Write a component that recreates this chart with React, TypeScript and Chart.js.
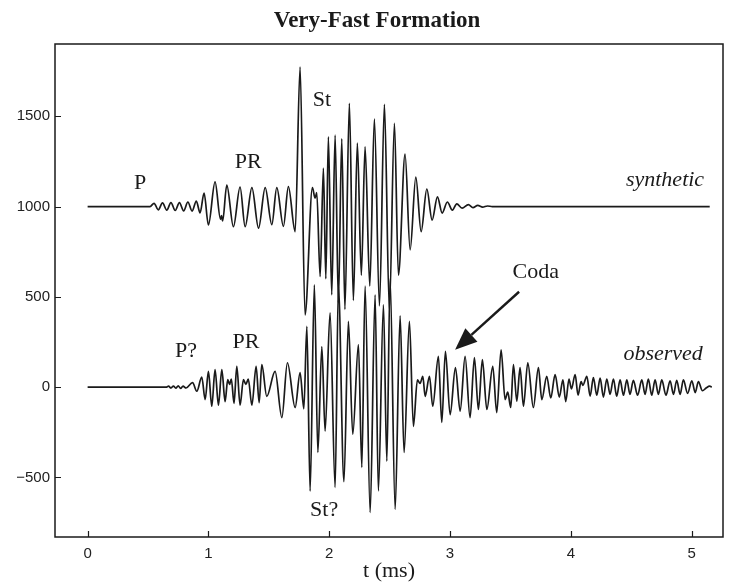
import React, { useEffect, useRef } from "react";
import { Chart, registerables } from "chart.js";

Chart.register(...registerables);

// ---- text ----
const TITLE = "Very-Fast Formation";
const X_LABEL = "t (ms)";

// ---- axes ----
const xTickValues = [0, 1, 2, 3, 4, 5];
const yTickValues = [-500, 0, 500, 1000, 1500];
const xRange = [-0.27, 5.26];
const yRange = [-830, 1900];

// ---- series: [time (ms), amplitude] ----
const synthetic: [number, number][] = [
  [0, 1000], [0.5, 1000], [0.517, 1000], [0.55, 1018], [0.585, 982], [0.62, 1020],
  [0.655, 980], [0.69, 1022], [0.725, 978], [0.76, 1022], [0.795, 976], [0.83, 1025],
  [0.865, 975], [0.9, 1030], [0.931, 965], [0.964, 1075], [1.0, 898], [1.055, 1137],
  [1.1, 930], [1.108, 950], [1.118, 920], [1.152, 1119], [1.207, 888], [1.262, 1108],
  [1.304, 888], [1.36, 1105], [1.415, 880], [1.47, 1105], [1.525, 900], [1.566, 1105],
  [1.621, 890], [1.662, 1110], [1.718, 861], [1.759, 1772], [1.8, 400], [1.861, 1105],
  [1.883, 1047], [1.897, 1077], [1.925, 612], [1.952, 1213], [1.972, 600], [1.993, 1386],
  [2.021, 511], [2.049, 1395], [2.076, 467], [2.104, 1375], [2.13, 430], [2.167, 1572],
  [2.2, 480], [2.233, 1351], [2.266, 620], [2.297, 1330], [2.336, 560], [2.374, 1484],
  [2.416, 450], [2.457, 1566], [2.498, 430], [2.54, 1461], [2.573, 621], [2.628, 1290],
  [2.67, 760], [2.717, 1163], [2.761, 861], [2.808, 1097], [2.852, 925], [2.896, 1054],
  [2.935, 964], [2.978, 1025], [3.02, 980], [3.056, 1015], [3.1, 991], [3.152, 1010],
  [3.19, 994], [3.23, 1006], [3.27, 997], [3.31, 1003], [3.35, 1000], [5.15, 1000],
];

const observed: [number, number][] = [
  [0, 0], [0.65, 0], [0.67, 5], [0.69, -5], [0.71, 6], [0.73, -6], [0.75, 7], [0.77, -7],
  [0.79, 6], [0.815, -5], [0.869, 25], [0.904, -23], [0.945, 55], [0.973, -69], [1.0, 87],
  [1.028, -106], [1.055, 97], [1.083, -100], [1.111, 97], [1.138, -80], [1.16, 41],
  [1.175, 15], [1.19, 45], [1.212, -90], [1.235, 115], [1.262, -100], [1.29, 41],
  [1.31, 15], [1.33, 45], [1.36, -100], [1.395, 115], [1.42, -86], [1.442, 124],
  [1.483, -51], [1.552, 87], [1.608, -169], [1.654, 135], [1.718, -113], [1.759, 80],
  [1.79, -120], [1.815, 336], [1.842, -576], [1.877, 566], [1.906, -362], [1.939, 225],
  [1.966, -244], [2.007, 411], [2.049, -555], [2.076, 557], [2.122, -524], [2.159, 364],
  [2.195, -262], [2.242, 235], [2.27, -445], [2.297, 560], [2.339, -694], [2.38, 511],
  [2.407, -575], [2.449, 456], [2.477, -410], [2.504, 600], [2.546, -677], [2.587, 395],
  [2.62, -362], [2.664, 364], [2.697, -217], [2.73, 40], [2.752, 20], [2.775, 60],
  [2.794, -51], [2.83, 60], [2.857, -106], [2.904, 170], [2.932, -196], [2.962, 198],
  [3.001, -152], [3.045, 108], [3.084, -133], [3.125, 170], [3.166, -169], [3.202, 163],
  [3.235, -124], [3.268, 152], [3.305, -124], [3.354, 115], [3.387, -141], [3.423, 207],
  [3.456, -69], [3.478, -28], [3.503, -113], [3.525, 124], [3.553, -78], [3.58, 108],
  [3.608, -106], [3.644, 135], [3.69, -113], [3.732, 108], [3.76, -69], [3.801, 60],
  [3.834, -60], [3.87, 69], [3.905, -55], [3.935, 40], [3.958, -80], [3.985, 45],
  [4.005, -10], [4.036, 69], [4.06, -45], [4.085, 30], [4.1, 10], [4.133, 60],
  [4.16, -50], [4.187, 52], [4.215, -45], [4.243, 50], [4.27, -55], [4.298, 45],
  [4.325, -40], [4.353, 45], [4.38, -50], [4.408, 40], [4.436, -45], [4.464, 40],
  [4.49, -40], [4.518, 38], [4.553, -45], [4.588, 40], [4.615, -40], [4.642, 45],
  [4.67, -45], [4.698, 40], [4.725, -40], [4.753, 40], [4.788, -45], [4.822, 35],
  [4.85, -40], [4.877, 38], [4.905, -40], [4.932, 40], [4.967, -35], [5.002, 35],
  [5.03, -30], [5.056, 30], [5.09, -20], [5.12, -5], [5.15, 5], [5.167, 0],
];

// ---- annotations (data units) ----
const labelText = ["P", "PR", "St", "synthetic", "Coda", "observed", "P?", "PR", "St?"];
const labelT = [0.435, 1.33, 1.94, 4.78, 3.71, 4.764, 0.815, 1.31, 1.958];
const labelV = [1130, 1246, 1588, 1146, 638, 180, 196, 246, -682];
const labelItalic = [false, false, false, true, false, true, false, false, false];
const arrowFrom = [3.572, 528];
const arrowTo = [3.042, 207];

const SERIF = '"Liberation Serif", "Times New Roman", serif';
const SANS = '"Liberation Sans", Arial, sans-serif';
const INK = "#1a1a1a";

const decorPlugin = {
  id: "decor",
  afterDraw(chart: any) {
    const { ctx, chartArea: a, scales } = chart;
    const x = scales.x;
    const y = scales.y;
    ctx.save();
    // frame
    ctx.strokeStyle = INK;
    ctx.lineWidth = 1.5;
    ctx.strokeRect(a.left, a.top, a.right - a.left, a.bottom - a.top);
    // inward ticks
    ctx.lineWidth = 1.2;
    ctx.beginPath();
    xTickValues.forEach((v) => {
      const px = Math.round(x.getPixelForValue(v)) + 0.5;
      ctx.moveTo(px, a.bottom);
      ctx.lineTo(px, a.bottom - 6);
    });
    yTickValues.forEach((v) => {
      const py = Math.round(y.getPixelForValue(v)) + 0.5;
      ctx.moveTo(a.left, py);
      ctx.lineTo(a.left + 6, py);
    });
    ctx.stroke();
    // title
    ctx.fillStyle = INK;
    ctx.textAlign = "center";
    ctx.textBaseline = "middle";
    ctx.font = `bold 23px ${SERIF}`;
    ctx.fillText(TITLE, 377, 21);
    // labels
    labelText.forEach((t, i) => {
      ctx.font = `${labelItalic[i] ? "italic " : ""}22px ${SERIF}`;
      ctx.fillText(t, x.getPixelForValue(labelT[i]), y.getPixelForValue(labelV[i]));
    });
    // arrow
    const x0 = x.getPixelForValue(arrowFrom[0]);
    const y0 = y.getPixelForValue(arrowFrom[1]);
    const x1 = x.getPixelForValue(arrowTo[0]);
    const y1 = y.getPixelForValue(arrowTo[1]);
    const ang = Math.atan2(y1 - y0, x1 - x0);
    const headLen = 22;
    const headHalf = 9;
    const bx = x1 - headLen * Math.cos(ang);
    const by = y1 - headLen * Math.sin(ang);
    ctx.strokeStyle = INK;
    ctx.lineWidth = 2.4;
    ctx.beginPath();
    ctx.moveTo(x0, y0);
    ctx.lineTo(bx, by);
    ctx.stroke();
    ctx.beginPath();
    ctx.moveTo(x1, y1);
    ctx.lineTo(bx + headHalf * Math.sin(ang), by - headHalf * Math.cos(ang));
    ctx.lineTo(bx - headHalf * Math.sin(ang), by + headHalf * Math.cos(ang));
    ctx.closePath();
    ctx.fill();
    ctx.restore();
  },
};

export default function App() {
  const ref = useRef<HTMLCanvasElement | null>(null);
  useEffect(() => {
    if (!ref.current) return;
    const toPts = (s: [number, number][]) => s.map(([t, v]) => ({ x: t, y: v }));
    const lineStyle = {
      borderColor: INK,
      borderWidth: 1.7,
      pointRadius: 0,
      cubicInterpolationMode: "monotone" as const,
      fill: false,
    };
    const chart = new Chart(ref.current, {
      type: "line",
      data: {
        datasets: [
          { label: "observed", data: toPts(observed), ...lineStyle },
          { label: "synthetic", data: toPts(synthetic), ...lineStyle },
        ],
      },
      options: {
        responsive: false,
        animation: false,
        layout: { padding: { top: 44, right: 15, left: 0, bottom: 0 } },
        plugins: {
          legend: { display: false },
          tooltip: { enabled: false },
          title: { display: false },
        },
        scales: {
          x: {
            type: "linear",
            min: xRange[0],
            max: xRange[1],
            grid: { display: false, drawTicks: false },
            border: { display: false },
            afterBuildTicks: (s: any) => {
              s.ticks = xTickValues.map((value) => ({ value }));
            },
            afterFit: (s: any) => {
              s.height = 47;
            },
            ticks: {
              padding: 8,
              color: "#222",
              font: { family: SANS, size: 15 },
              maxRotation: 0,
            },
            title: {
              display: true,
              text: X_LABEL,
              color: INK,
              font: { family: SERIF, size: 22 },
              padding: { top: 0, bottom: 0 },
            },
          },
          y: {
            type: "linear",
            min: yRange[0],
            max: yRange[1],
            grid: { display: false, drawTicks: false },
            border: { display: false },
            afterBuildTicks: (s: any) => {
              s.ticks = yTickValues.map((value) => ({ value }));
            },
            afterFit: (s: any) => {
              s.width = 55;
            },
            ticks: {
              padding: 5,
              color: "#222",
              font: { family: SANS, size: 15 },
              callback: (v: any) => (Number(v) < 0 ? "\u2212" + Math.abs(Number(v)) : String(v)),
            },
          },
        },
      },
      plugins: [decorPlugin],
    });
    return () => chart.destroy();
  }, []);
  return (
    <div style={{ position: "absolute", left: 0, top: 0, width: 738, height: 584, background: "#fff" }}>
      <canvas ref={ref} width={738} height={584} style={{ display: "block" }} />
    </div>
  );
}
